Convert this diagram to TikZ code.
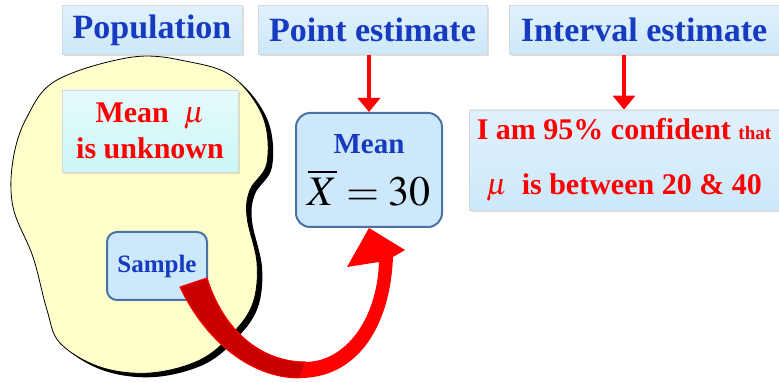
\documentclass[tikz,border=0pt]{standalone}
\usepackage{mathptmx}
\usepackage[no-math]{fontspec}
\setmainfont{Liberation Serif}
\usetikzlibrary{calc, positioning}
\usetikzlibrary{arrows.meta}
\usetikzlibrary{shadows}
\definecolor{titleblue}{RGB}{22,58,192}
\definecolor{boxblue}{RGB}{204,232,250}
\definecolor{boxedge}{RGB}{74,114,166}
\definecolor{paleyellow}{RGB}{255,255,204}
\definecolor{palecyan}{RGB}{204,246,246}
\definecolor{darkred}{RGB}{200,0,0}
\tikzset{
  titlebox/.style={rectangle, top color=boxblue!60, bottom color=boxblue, draw=white!85!black,
    drop shadow={opacity=0.25, shadow xshift=1pt, shadow yshift=-1pt},
    text=titleblue, font=\fontsize{17}{20}\selectfont\bfseries, inner sep=0pt},
  roundbox/.style={rectangle, rounded corners=5pt, fill=boxblue, draw=boxedge, line width=1pt, inner sep=0pt},
  redarrow/.style={draw=red, line width=2pt, -{Triangle[length=7pt,width=11pt]}}
}
\begin{document}
\begin{tikzpicture}[x=0.5pt, y=-0.5pt]
\useasboundingbox (0,0) rectangle (779,383);
% population blob with its shadow
\def\blob{(133,57) (190,62) (233,77) (263,117) (267,163) (250,190) (247,217) (257,263) (253,303) (233,333) (200,360) (150,373) (100,367) (60,343) (47,310) (33,257) (13,207) (13,160) (27,117) (57,80)}
\fill[black, xshift=2.5pt, yshift=-2pt] plot[smooth cycle, tension=0.6] coordinates {\blob};
\filldraw[fill=paleyellow, draw=black, line width=0.4pt] plot[smooth cycle, tension=0.6] coordinates {\blob};

\node[titlebox, minimum width=90pt, minimum height=24.5pt] (pop) at (152,30) {Population};
\node[titlebox, minimum width=114.5pt, minimum height=24.5pt] (point) at (372.5,30) {Point estimate};
\node[titlebox, minimum width=135pt, minimum height=24.5pt] (interval) at (644,30) {Interval estimate};

\node[rectangle, top color=palecyan!50, bottom color=palecyan, draw=white!85!black,
  drop shadow={opacity=0.25, shadow xshift=1pt, shadow yshift=-1pt},
  minimum width=88pt, minimum height=41pt, align=center, text=red,
  font=\fontsize{15}{18}\selectfont\bfseries] (unknown) at (150,131) {Mean~~$\mu$\\ is unknown};

\node[roundbox, minimum width=50pt, minimum height=34pt, text=titleblue,
  font=\fontsize{12.5}{14}\selectfont\bfseries] (sample) at (157,266) {Sample};

\node[roundbox, rounded corners=7pt, minimum width=73pt, minimum height=57pt, align=center,
  font=\fontsize{14.5}{17}\selectfont] (xbar) at (369,170)
  {\textcolor{titleblue}{\bfseries Mean}\\[7pt]{\fontsize{21}{21}\selectfont$\overline{X}=30$}};

\node[rectangle, top color=boxblue!60, bottom color=boxblue, draw=white!85!black,
  drop shadow={opacity=0.25, shadow xshift=1pt, shadow yshift=-1pt},
  minimum width=155pt, minimum height=50pt, align=center, text=red,
  font=\fontsize{15}{27.5}\selectfont\bfseries] (conf) at (624,160)
  {I am 95\% confident {\fontsize{9.5}{10}\selectfont that}\\ $\mu$~~is between 20 \& 40};

\draw[redarrow] (point.south -| xbar.north) -- (xbar.north);
\draw[redarrow] (interval.south -| conf.north) -- (conf.north);

% curved arrow from the sample to the estimate
\fill[red] (180,287) .. controls (205,340) and (250,378) .. (300,378)
  .. controls (355,378) and (390,330) .. (393,257) -- (405,250) -- (xbar.south)
  -- (347,267) -- (379,262) .. controls (377,320) and (345,362) .. (305,362)
  .. controls (265,362) and (225,335) .. (207,278) -- cycle;
\filldraw[fill=darkred, draw=red, line width=0.5pt] (180,287) .. controls (205,340) and (250,378) .. (300,378)
  -- (305,362) .. controls (265,362) and (225,335) .. (207,278) -- cycle;
\end{tikzpicture}
\end{document}
